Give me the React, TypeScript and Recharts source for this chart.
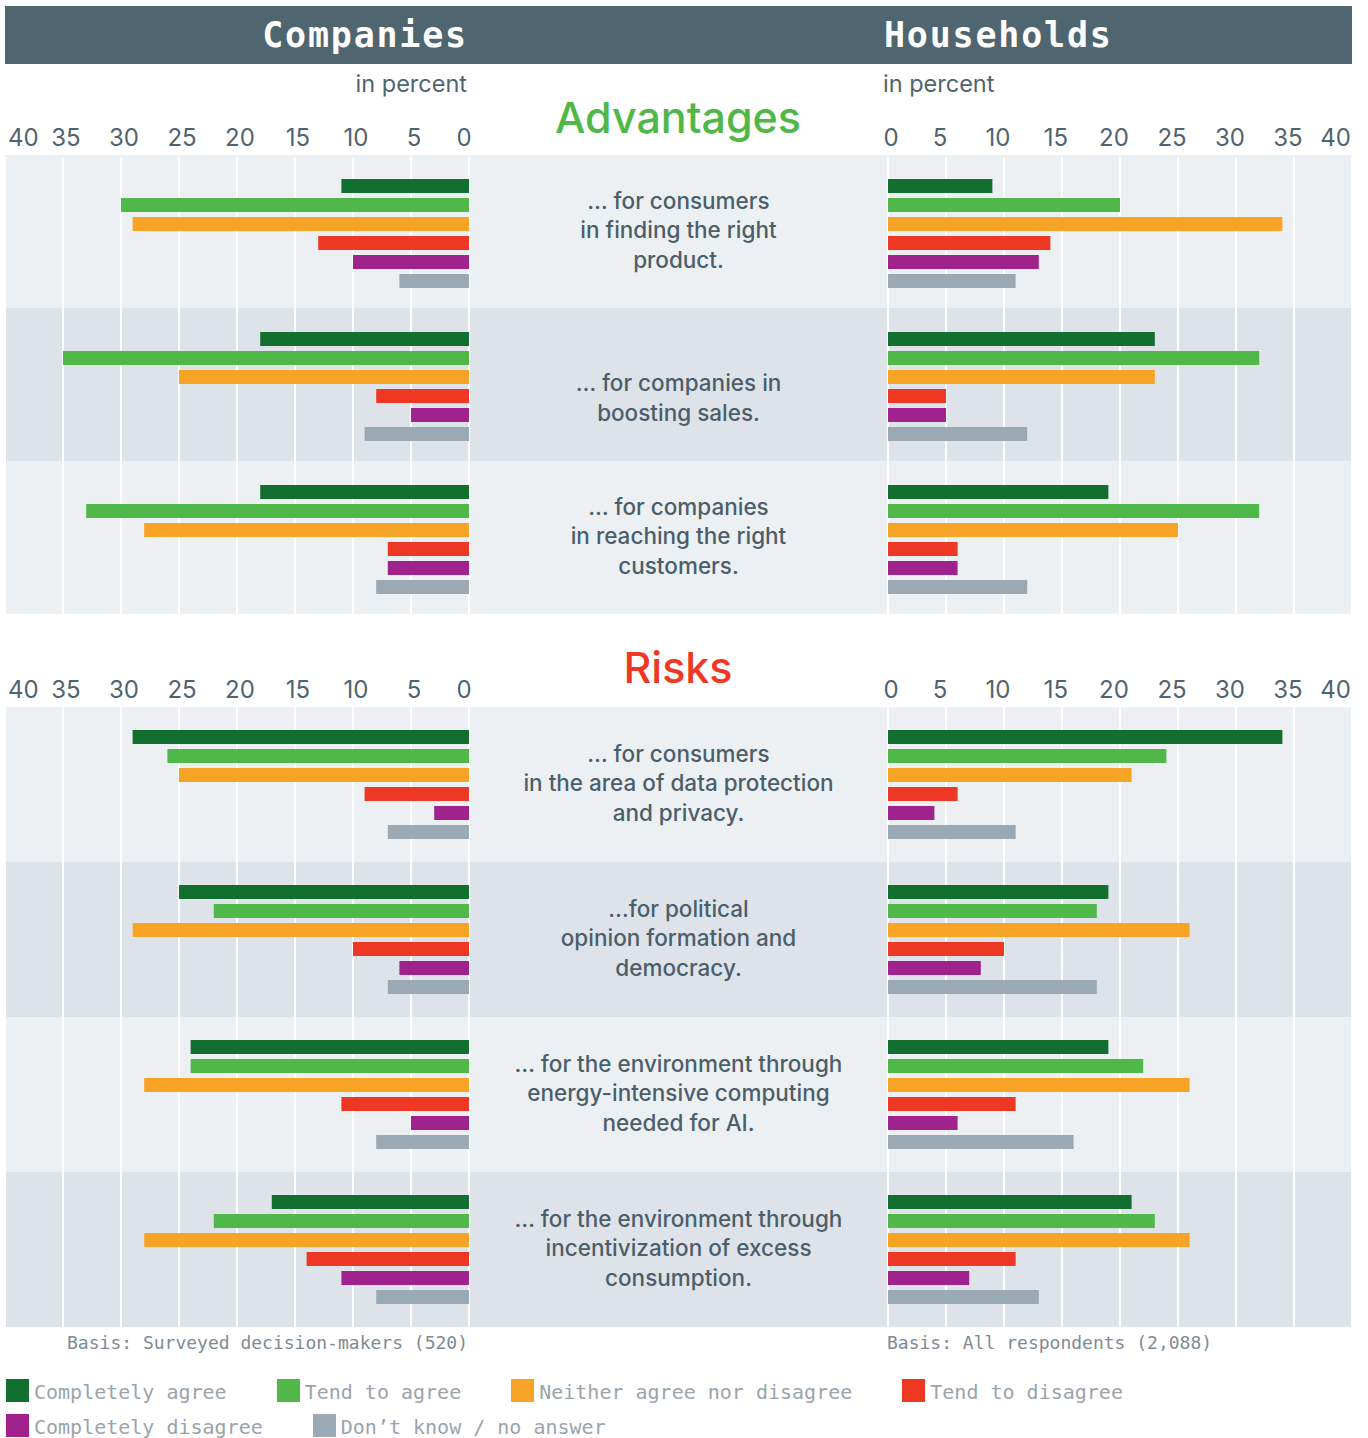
import { BarChart, Bar, XAxis, YAxis, CartesianGrid } from 'recharts'

const answerNames = [
  'Completely agree',
  'Tend to agree',
  'Neither agree nor disagree',
  'Tend to disagree',
  'Completely disagree',
  'Don\u2019t know / no answer',
]
const answerKeys = ['completelyAgree', 'tendAgree', 'neither', 'tendDisagree', 'completelyDisagree', 'dontKnow']
const answerColors = ['#136f2f', '#50b848', '#f7a325', '#ef3823', '#a0228c', '#9aa9b3']

const percentTicks = [0, 5, 10, 15, 20, 25, 30, 35, 40]

const advantageTopics = ['consumersProduct', 'companiesSales', 'companiesCustomers']
const advantageLabels = [
  ['\u2026 for consumers', 'in finding the right', 'product.'],
  ['', '\u2026 for companies in', 'boosting sales.'],
  ['\u2026 for companies', 'in reaching the right', 'customers.'],
]

const riskTopics = ['consumersPrivacy', 'democracy', 'energy', 'consumption']
const riskLabels = [
  ['\u2026 for consumers', 'in the area of data protection', 'and privacy.'],
  ['\u2026for political', 'opinion formation and', 'democracy.'],
  ['\u2026 for the environment through', 'energy-intensive computing', 'needed for AI.'],
  ['\u2026 for the environment through', 'incentivization of excess', 'consumption.'],
]

// one row per topic, values in the order of answerKeys (percent)
const companiesAdvantages = [
  [11, 30, 29, 13, 10, 6],
  [18, 35, 25, 8, 5, 9],
  [18, 33, 28, 7, 7, 8],
]
const householdsAdvantages = [
  [9, 20, 34, 14, 13, 11],
  [23, 32, 23, 5, 5, 12],
  [19, 32, 25, 6, 6, 12],
]
const companiesRisks = [
  [29, 26, 25, 9, 3, 7],
  [25, 22, 29, 10, 6, 7],
  [24, 24, 28, 11, 5, 8],
  [17, 22, 28, 14, 11, 8],
]
const householdsRisks = [
  [34, 24, 21, 6, 4, 11],
  [19, 18, 26, 10, 8, 18],
  [19, 22, 26, 11, 6, 16],
  [21, 23, 26, 11, 7, 13],
]

const SANS = 'Inter, "Noto Sans", sans-serif'
const MONO = '"DejaVu Sans Mono", monospace'
const SLATE = '#4f6470'
const AXIS_H = 40
const MID_W = 419
const BAND_LIGHT = '#ecf0f3'
const BAND_DARK = '#dee3ea'

function toRows(topics: string[], values: number[][]) {
  return topics.map((topic, i) => {
    const row: Record<string, string | number> = { topic }
    answerKeys.forEach((k, j) => {
      row[k] = values[i][j]
    })
    return row
  })
}

function PercentTick(props: any) {
  const { x, y, payload, side, lift } = props
  const v = payload.value
  let anchor = 'middle'
  let dx = side === 'left' ? 3 : -6
  if (v === 0) dx = side === 'left' ? -5 : 3
  if (v === 40) {
    anchor = side === 'left' ? 'start' : 'end'
    dx = side === 'left' ? 3 : -1
  }
  return (
    <text x={x + dx} y={y - 1 - lift} textAnchor={anchor} fill={SLATE} fontSize={24} fontFamily={SANS}>
      {v}
    </text>
  )
}

function TopicTick(props: any) {
  const { y, payload, topics, labels, lift } = props
  const lines: string[] = labels[topics.indexOf(payload.value)] || []
  const lh = 29.5
  const start = y - lift - ((lines.length - 1) * lh) / 2
  return (
    <text textAnchor="middle" fill="#4b5e6a" fontSize={22.5} fontWeight={500} fontFamily={SANS}>
      {lines.map((l, i) => (
        <tspan key={i} x={MID_W / 2} y={start + i * lh} dy="0.3em">
          {l}
        </tspan>
      ))}
    </text>
  )
}

function Bands({ top, bandH, count }: { top: number; bandH: number; count: number }) {
  return (
    <>
      {Array.from({ length: count }).map((_, i) => (
        <div
          key={i}
          style={{
            position: 'absolute',
            left: 5,
            width: 1347,
            top: top + i * bandH,
            height: bandH,
            background: i % 2 === 0 ? BAND_LIGHT : BAND_DARK,
          }}
        />
      ))}
    </>
  )
}

function Section({
  top,
  bandH,
  lift,
  topics,
  labels,
  companies,
  households,
}: {
  top: number
  bandH: number
  lift: number
  topics: string[]
  labels: string[][]
  companies: number[][]
  households: number[][]
}) {
  const plotH = bandH * topics.length
  const bars = answerKeys.map((k, i) => (
    <Bar key={k} dataKey={k} name={answerNames[i]} fill={answerColors[i]} isAnimationActive={false} />
  ))
  return (
    <>
      <Bands top={top} bandH={bandH} count={topics.length} />
      <div style={{ position: 'absolute', left: 0, top: top - AXIS_H + lift }}>
        <BarChart
          layout="vertical"
          width={474}
          height={AXIS_H + plotH}
          data={toRows(topics, companies)}
          margin={{ top: 0, right: 5, bottom: 0, left: 5 }}
          barSize={14}
          barGap={5}
        >
          <CartesianGrid horizontal={false} stroke="#ffffff" strokeWidth={2} />
          <XAxis
            type="number"
            orientation="top"
            domain={[0, 40]}
            ticks={percentTicks}
            reversed
            interval={0}
            axisLine={false}
            tickLine={false}
            height={AXIS_H}
            tick={(p: any) => <PercentTick {...p} side="left" lift={lift} />}
          />
          <YAxis type="category" dataKey="topic" hide />
          {bars}
        </BarChart>
      </div>
      <div style={{ position: 'absolute', left: 469, top: top - AXIS_H + lift }}>
        <BarChart
          layout="vertical"
          width={888}
          height={AXIS_H + plotH}
          data={toRows(topics, households)}
          margin={{ top: 0, right: 5, bottom: 0, left: 0 }}
          barSize={14}
          barGap={5}
        >
          <CartesianGrid horizontal={false} stroke="#ffffff" strokeWidth={2} />
          <XAxis
            type="number"
            orientation="top"
            domain={[0, 40]}
            ticks={percentTicks}
            interval={0}
            axisLine={false}
            tickLine={false}
            height={AXIS_H}
            tick={(p: any) => <PercentTick {...p} side="right" lift={lift} />}
          />
          <YAxis
            type="category"
            dataKey="topic"
            width={MID_W}
            interval={0}
            axisLine={false}
            tickLine={false}
            tick={(p: any) => <TopicTick {...p} topics={topics} labels={labels} lift={lift} />}
          />
          {bars}
        </BarChart>
      </div>
    </>
  )
}

export default function App() {
  const abs = { position: 'absolute' as const }
  const header = {
    ...abs,
    top: 6,
    lineHeight: '58px',
    color: '#fff',
    fontFamily: MONO,
    fontSize: 35,
    fontWeight: 700,
    letterSpacing: 1.8,
  }
  return (
    <div
      style={{
        position: 'absolute',
        left: 0,
        top: 0,
        width: 1368,
        height: 1438,
        background: '#fff',
        fontFamily: SANS,
        overflow: 'hidden',
      }}
    >
      <div style={{ ...abs, left: 5, top: 6, width: 1347, height: 58, background: '#4f6570' }} />
      <div style={{ ...header, right: 1368 - 468 }}>Companies</div>
      <div style={{ ...header, left: 884 }}>Households</div>

      <div style={{ ...abs, right: 1368 - 467, top: 70, fontSize: 23.5, lineHeight: '28px', color: SLATE }}>
        in percent
      </div>
      <div style={{ ...abs, left: 883, top: 70, fontSize: 23.5, lineHeight: '28px', color: SLATE }}>
        in percent
      </div>

      <div
        style={{
          ...abs,
          left: 478,
          width: 400,
          top: 92,
          textAlign: 'center',
          fontSize: 43,
          fontWeight: 500,
          lineHeight: '50px',
          color: '#50b848',
        }}
      >
        Advantages
      </div>
      <Section
        top={155}
        bandH={153}
        lift={2}
        topics={advantageTopics}
        labels={advantageLabels}
        companies={companiesAdvantages}
        households={householdsAdvantages}
      />

      <div
        style={{
          ...abs,
          left: 478,
          width: 400,
          top: 642,
          textAlign: 'center',
          fontSize: 43,
          fontWeight: 500,
          lineHeight: '50px',
          color: '#ef3823',
        }}
      >
        Risks
      </div>
      <Section
        top={707}
        bandH={155}
        lift={0}
        topics={riskTopics}
        labels={riskLabels}
        companies={companiesRisks}
        households={householdsRisks}
      />

      <div
        style={{ ...abs, right: 1368 - 468, top: 1332, fontFamily: MONO, fontSize: 18, lineHeight: '22px', color: '#7d8b94' }}
      >
        Basis: Surveyed decision-makers (520)
      </div>
      <div style={{ ...abs, left: 887, top: 1332, fontFamily: MONO, fontSize: 18, lineHeight: '22px', color: '#7d8b94' }}>
        Basis: All respondents (2,088)
      </div>

      <div
        style={{
          ...abs,
          left: 6,
          top: 1379,
          width: 1360,
          display: 'flex',
          flexWrap: 'wrap',
          columnGap: 50,
          rowGap: 12,
        }}
      >
        {answerNames.map((name, i) => (
          <div key={name} style={{ display: 'flex', alignItems: 'flex-start', height: 23 }}>
            <div style={{ width: 23, height: 23, background: answerColors[i], marginRight: 5 }} />
            <div
              style={{
                fontFamily: MONO,
                fontSize: 20,
                lineHeight: '23px',
                color: '#9aa4aa',
                position: 'relative',
                top: 2,
                whiteSpace: 'nowrap',
              }}
            >
              {name}
            </div>
          </div>
        ))}
      </div>
    </div>
  )
}
